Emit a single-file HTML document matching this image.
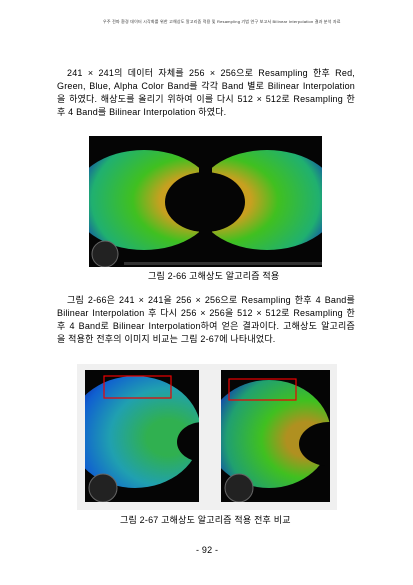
<!DOCTYPE html>
<html><head><meta charset="utf-8"><style>
body{margin:0;width:413px;height:585px;background:#fff;position:relative;overflow:hidden;font-family:"Liberation Sans","Noto Sans CJK KR",sans-serif;color:#000}
.t{position:absolute;font-size:9px;line-height:13px;white-space:nowrap;letter-spacing:0.2px}
.j{text-align:justify;text-align-last:justify;white-space:normal}
</style></head><body>
<div class="t" style="left:103px;top:19px;font-size:4px;line-height:6px;width:260px;color:#333">우주 전파 환경 데이터 시각화를 위한 고해상도 알고리즘 적용 및 Resampling 기법 연구 보고서 Bilinear Interpolation 결과 분석 자료</div>
<div class="t j" style="left:67px;top:67px;width:288px">241 × 241의 데이터 자체를 256 × 256으로 Resampling 한후 Red,</div>
<div class="t j" style="left:57px;top:80px;width:298px">Green, Blue, Alpha Color Band를 각각 Band 별로 Bilinear Interpolation</div>
<div class="t j" style="left:57px;top:93px;width:298px">을 하였다. 해상도를 올리기 위하여 이를 다시 512 × 512로 Resampling 한</div>
<div class="t" style="left:57px;top:106px">후 4 Band를 Bilinear Interpolation 하였다.</div>

<svg style="position:absolute;left:89px;top:136px" width="233" height="131">
<defs>
<radialGradient id="gl" cx="0.85" cy="0.5" r="0.95"><stop offset="0.25" stop-color="#c8a020"/><stop offset="0.45" stop-color="#40c020"/><stop offset="0.75" stop-color="#20b070"/><stop offset="0.9" stop-color="#1040b0"/><stop offset="1" stop-color="#000"/></radialGradient>
<radialGradient id="gr" cx="0.15" cy="0.5" r="0.95"><stop offset="0.25" stop-color="#c8a020"/><stop offset="0.45" stop-color="#40c020"/><stop offset="0.75" stop-color="#20b070"/><stop offset="0.9" stop-color="#1040b0"/><stop offset="1" stop-color="#000"/></radialGradient>
</defs>
<rect width="233" height="131" fill="#050505"/>
<ellipse cx="55" cy="64" rx="72" ry="50" fill="url(#gl)"/>
<ellipse cx="178" cy="64" rx="72" ry="50" fill="url(#gr)"/>
<ellipse cx="116" cy="66" rx="40" ry="30" fill="#050505"/>
<rect x="110" y="0" width="13" height="131" fill="#050505"/>
<circle cx="16" cy="118" r="13" fill="#222" stroke="#666"/>
<rect x="35" y="126" width="198" height="3" fill="#333"/>
</svg>
<div class="t" style="left:148px;top:270px">그림 2-66 고해상도 알고리즘 적용</div>

<div class="t j" style="left:67px;top:294px;width:288px">그림 2-66은 241 × 241을 256 × 256으로 Resampling 한후 4 Band를</div>
<div class="t j" style="left:57px;top:307px;width:298px">Bilinear Interpolation 후 다시 256 × 256을 512 × 512로 Resampling 한</div>
<div class="t j" style="left:57px;top:320px;width:298px">후 4 Band로 Bilinear Interpolation하여 얻은 결과이다. 고해상도 알고리즘</div>
<div class="t" style="left:57px;top:333px">을 적용한 전후의 이미지 비교는 그림 2-67에 나타내었다.</div>

<div style="position:absolute;left:77px;top:364px;width:260px;height:146px;background:#f0f0f0"></div>
<svg style="position:absolute;left:85px;top:370px" width="114" height="132">
<defs><radialGradient id="g2" cx="0.75" cy="0.55" r="0.8"><stop offset="0.2" stop-color="#30b050"/><stop offset="0.55" stop-color="#20a0b0"/><stop offset="0.85" stop-color="#1060d0"/><stop offset="1" stop-color="#1030b0"/></radialGradient></defs>
<rect width="114" height="132" fill="#050505"/>
<ellipse cx="50" cy="62" rx="66" ry="56" fill="url(#g2)"/>
<ellipse cx="118" cy="72" rx="26" ry="20" fill="#050505"/>
<circle cx="18" cy="118" r="14" fill="#222" stroke="#666"/>
<rect x="19" y="6" width="67" height="22" fill="none" stroke="#e00" stroke-width="1.2"/>
</svg>
<svg style="position:absolute;left:221px;top:370px" width="109" height="132">
<defs><radialGradient id="g3" cx="0.8" cy="0.55" r="0.8"><stop offset="0.2" stop-color="#b09020"/><stop offset="0.45" stop-color="#40c020"/><stop offset="0.8" stop-color="#20a070"/><stop offset="1" stop-color="#1040b0"/></radialGradient></defs>
<rect width="109" height="132" fill="#050505"/>
<ellipse cx="48" cy="64" rx="62" ry="54" fill="url(#g3)"/>
<ellipse cx="108" cy="74" rx="30" ry="22" fill="#050505"/>
<circle cx="18" cy="118" r="14" fill="#222" stroke="#666"/>
<rect x="8" y="9" width="67" height="21" fill="none" stroke="#e00" stroke-width="1.2"/>
</svg>
<div class="t" style="left:120px;top:514px">그림 2-67 고해상도 알고리즘 적용 전후 비교</div>
<div class="t" style="left:196px;top:544px">- 92 -</div>
</body></html>
